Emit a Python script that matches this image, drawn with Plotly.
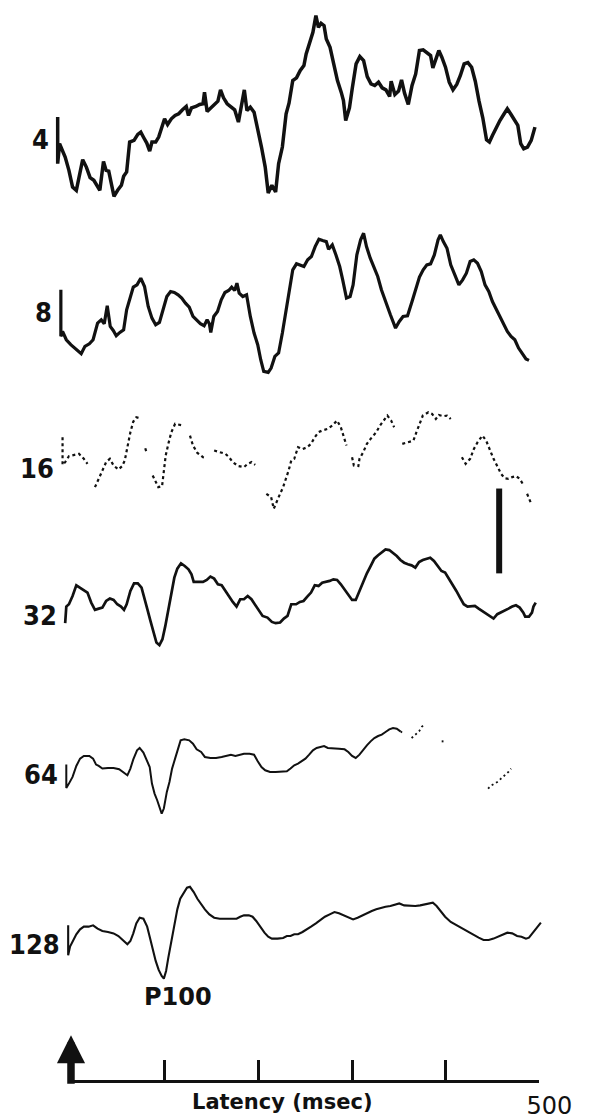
import plotly.graph_objects as go

# Pattern-reversal VEP averages recorded for six check sizes.
# Latency in ms, amplitude in microvolts (positive plotted downward).
CHECK_SIZES = ["4", "8", "16", "32", "64", "128"]

LAT_4 = [-14.2, -14.2, -12.2, -9.4, -6.2, -2.2, 1.7, 5.7, 9.7, 12.5, 16.4, 20.4, 24.4, 27.6, 30.8,
         34.7, 37.5, 40.3, 43.5, 45.9, 49.8, 53.8, 56.2, 59.4, 62.6, 67.3, 71.3, 74.5, 77.7, 80.9,
         84.0, 86.4, 90.4, 93.6, 96.8, 99.9, 103.1, 107.1, 111.1, 115.0, 119.0, 123.0, 125.4, 128.6,
         133.3, 137.3, 140.9, 142.5, 145.3, 149.2, 153.2, 156.8, 159.6, 162.8, 166.7, 170.7, 174.7,
         178.7, 181.8, 185.0, 187.8, 191.4, 195.4, 199.3, 203.3, 207.3, 210.5, 214.4, 218.4, 221.6,
         225.6, 229.6, 232.7, 236.7, 240.7, 244.7, 248.6, 251.0, 255.0, 258.2, 261.4, 264.1, 266.9,
         270.1, 272.5, 276.5, 280.4, 284.4, 288.4, 290.8, 293.2, 297.2, 300.3, 304.3, 308.3, 312.3,
         316.2, 320.2, 324.2, 328.2, 332.1, 336.1, 340.1, 341.7, 345.7, 349.6, 352.8, 356.0, 360.0,
         364.0, 367.9, 371.9, 375.9, 379.8, 383.8, 386.2, 389.4, 392.6, 395.8, 399.7, 403.7, 407.7,
         411.7, 415.6, 419.6, 423.6, 427.6, 431.5, 435.5, 439.5, 443.5, 446.6, 449.8, 453.8, 457.8,
         461.8, 465.7, 469.7, 473.7, 476.9, 480.0, 483.2, 487.2, 491.2, 495.2]
AMP_4 = [-2.67, 2.82, 0.47, 1.18, 2.04, 3.61, 5.57, 5.96, 4.0, 2.35, 3.22, 4.47, 4.78, 5.37, 5.96,
         2.55, 3.61, 3.69, 5.57, 6.67, 5.96, 5.37, 4.31, 3.80, 0.27, 0.08, -0.63, -0.90, -0.24, 0.39,
         1.33, 0.27, 0.27, -0.31, -1.41, -2.47, -1.80, -2.47, -2.86, -3.06, -3.53, -3.92, -2.86, -3.76,
         -3.92, -4.16, -4.24, -5.61, -3.33, -3.76, -4.24, -4.55, -5.88, -4.94, -4.24, -3.92, -3.53,
         -2.08, -3.76, -5.88, -3.45, -3.84, -3.25, -1.41, 0.86, 3.22, 6.27, 5.37, 6.16, 2.82,
         0.86, -3.06, -4.31, -6.98, -7.29, -8.16, -8.75, -10.12, -11.61, -12.67, -14.63, -13.25, -13.73,
         -13.45, -11.88, -10.90, -8.94, -6.98, -5.61, -4.63, -2.27, -3.76, -6.12, -8.94, -9.80, -9.33,
         -7.45, -6.59, -6.39, -6.78, -6.12, -5.88, -5.10, -6.90, -5.33, -5.73, -7.06, -5.49, -4.16,
         -6.39, -7.76, -10.51, -10.59, -10.31, -9.92, -8.47, -9.65, -10.51, -9.73, -8.55, -6.78, -5.88,
         -6.51, -7.57, -8.94, -9.10, -8.55, -6.90, -4.55, -2.59, 0.0, 0.27, -0.51, -1.49, -2.27,
         -2.98, -3.65, -2.98, -2.27, -1.69, 0.47, 1.06, 0.86, 0.08, -1.49]

LAT_8 = [-10.8, -10.8, -9.0, -5.0, -0.2, 5.7, 10.9, 14.9, 19.6, 23.6, 28.4, 32.3, 35.5, 38.7, 41.9,
         45.1, 48.3, 52.2, 56.2, 59.4, 63.4, 66.5, 70.5, 74.5, 78.5, 82.4, 86.4, 90.4, 94.4, 98.3,
         102.3, 106.3, 110.3, 114.3, 118.2, 122.2, 126.2, 130.2, 134.1, 138.1, 142.1, 145.3, 147.7,
         149.2, 152.4, 156.4, 160.4, 164.3, 168.3, 171.5, 174.7, 177.1, 179.5, 183.4, 187.4, 191.4,
         195.4, 199.3, 202.5, 205.7, 210.5, 213.6, 217.6, 221.6, 225.6, 229.6, 232.7, 236.7, 240.7,
         244.7, 248.6, 252.6, 256.6, 260.6, 264.6, 268.5, 272.5, 274.9, 278.9, 282.8, 286.8, 290.0,
         294.0, 297.9, 301.1, 305.1, 309.1, 312.3, 315.4, 319.4, 323.4, 327.4, 331.3, 336.1, 340.9,
         346.4, 350.4, 354.4, 359.2, 364.0, 367.9, 371.9, 375.9, 379.8, 383.8, 387.8, 391.8, 394.2,
         397.4, 401.3, 405.3, 409.3, 414.0, 418.0, 422.0, 426.0, 429.9, 433.9, 437.9, 441.9, 445.9,
         449.8, 453.8, 457.8, 461.8, 465.7, 469.7, 473.7, 477.7, 481.6, 485.6, 488.8]
AMP_8 = [-2.67, 2.82, 2.24, 3.22, 3.80, 4.39, 4.86, 4.0, 3.69, 3.22, 1.25, 0.86, 1.33, -0.78, 1.65,
         2.12, 2.75, 2.35, 2.04, -0.31, -1.88, -2.98, -3.25, -4.04, -3.06, -0.71, 0.67, 1.45, 1.18, -0.31,
         -1.88, -2.47, -2.35, -2.08, -1.69, -1.10, -0.63, 0.47, 0.86, 1.33, 1.57, 0.86, 1.33,
         2.35, 0.47, -0.12, -1.49, -2.35, -2.59, -2.98, -2.59, -3.45, -2.27, -1.88, -2.08, 0.47,
         2.43, 3.80, 5.57, 6.94, 7.06, 6.55, 5.18, 4.78, 2.43, -0.31, -2.08, -5.02, -5.73,
         -5.61, -5.41, -6.20, -6.59, -7.76, -8.63, -8.47, -8.35, -7.45, -7.96, -6.78, -5.41, -3.84,
         -1.69, -1.88, -3.25, -6.78, -8.55, -9.33, -7.76, -6.39, -5.41, -4.24, -2.67, -1.10, 0.27,
         1.84, 1.06, 0.47, 0.39, -1.29, -2.86, -4.16, -5.02, -5.61, -5.73, -6.78, -8.55, -9.14,
         -8.35, -7.57, -5.61, -4.55, -3.25, -3.84, -4.63, -6.0, -6.20, -5.80, -4.82, -3.25, -2.47,
         -1.29, -0.39, 0.55, 1.57, 2.24, 2.82, 3.22, 4.20, 4.86, 5.49, 5.65]

# The 16' recording is broken where the pen lifted (None = no trace).
LAT_16 = [-9.0, -9.0, -6.2, -2.2, 3.7, 8.5, 13.7, 17.6, None,
          25.6, 29.6, 33.5, 37.5, 41.5, 45.5, 50.6, 54.6, 57.4, 60.2, 63.4, 66.5, 69.7, 73.3, None,
          79.3, 80.5, None,
          87.2, 93.2, 97.2, 99.1, 101.1, 103.9, 107.1, 111.1, 115.0, 119.8, None,
          127.0, 130.2, 134.9, 140.9, 144.9, None,
          152.8, 158.8, 164.8, 168.7, 172.7, 178.7, 184.6, 188.6, 192.6, 196.6, None,
          208.5, 213.6, 216.4, 219.2, 223.2, 226.4, 229.6, 232.3, 235.1, 238.3, 242.3, 247.0, 252.2,
          256.2, 260.2, 264.2, 268.1, 274.1, 278.9, 284.0, 288.0, 290.8, 294.0, None,
          300.0, 301.9, 306.7, 307.9, 311.9, 315.8, 319.8, 325.8, 329.8, 333.7, 337.7, 341.7, 344.9, None,
          353.6, 359.6, 365.5, 368.7, 371.9, 375.5, 381.4, 385.4, 389.4, 392.6, 397.4, 401.3, 405.3, None,
          417.2, 421.2, 426.0, 430.0, 434.0, 439.1, 443.1, 447.0, 451.0, 455.0, 459.0, 462.9, 466.9,
          470.9, 474.9, 478.9, 482.8, None,
          486.8, 490.8]
AMP_16 = [-3.65, -0.39, -0.71, -1.41, -1.57, -1.69, -1.10, -0.51, None,
          2.24, 1.25, 0.08, -0.71, -1.10, -0.31, 0.16, -0.24, -0.90, -2.67, -4.24, -5.49, -6.0, -5.88, None,
          -2.35, -1.90, None,
          0.86, 2.24, 2.12, 0.08, -1.49, -2.86, -4.24, -5.22, -5.10, -5.02, None,
          -3.84, -2.67, -1.80, -1.29, -1.18, None,
          -2.08, -1.88, -1.69, -1.29, -0.71, -0.24, -0.12, -0.51, -0.71, -0.39, None,
          3.02, 3.41, 4.78, 4.0, 3.02, 2.24, 1.25, 0.27, -0.90, -1.10, -2.47, -2.24, -2.47,
          -2.86, -3.65, -4.24, -4.43, -4.63, -5.02, -5.61, -4.82, -3.84, -2.67, None,
          -1.29, -0.31, -0.24, -1.10, -1.88, -2.86, -3.45, -4.24, -5.02, -5.61, -6.20, -5.61, -4.82, None,
          -2.86, -3.06, -3.25, -4.24, -5.22, -6.20, -6.59, -6.39, -5.80, -6.27, -6.12, -6.20, -5.80, None,
          -1.29, -0.51, -1.10, -2.27, -3.06, -3.84, -3.25, -2.08, -1.10, -0.24, 0.67, 1.18, 1.25,
          1.06, 0.94, 1.25, 1.96, None,
          3.02, 4.08]

LAT_32 = [-6.2, -5.0, -2.2, 1.7, 5.7, 9.7, 13.7, 17.6, 21.6, 25.6, 29.6, 33.5, 37.5, 41.5, 45.5,
          49.4, 53.4, 56.6, 59.4, 63.4, 67.3, 71.3, 75.3, 78.5, 81.7, 84.8, 88.0, 91.2, 94.4, 97.6,
          100.7, 103.9, 107.1, 110.3, 113.5, 117.4, 121.4, 125.4, 128.6, 131.0, 135.7, 140.9, 144.9,
          148.8, 152.8, 156.8, 160.8, 164.8, 168.7, 172.7, 176.7, 180.6, 184.6, 188.6, 192.6, 196.6,
          200.5, 204.5, 209.7, 214.4, 218.4, 223.2, 227.2, 231.1, 235.1, 240.3, 244.3, 248.2, 252.2,
          256.2, 260.2, 264.2, 268.1, 272.1, 276.1, 280.1, 284.0, 288.0, 292.0, 296.0, 300.0, 303.9,
          307.9, 311.9, 315.8, 319.8, 323.8, 327.8, 331.7, 335.7, 339.7, 343.7, 347.7, 351.6, 355.6,
          359.6, 363.5, 367.5, 371.5, 375.5, 379.5, 383.4, 387.4, 391.4, 395.4, 399.3, 403.3, 407.3,
          411.3, 415.2, 419.2, 423.2, 427.2, 431.1, 435.1, 439.1, 443.1, 447.0, 451.0, 455.0, 459.0,
          462.9, 466.9, 470.9, 474.9, 478.9, 482.8, 484.8, 488.8, 492.0, 493.6, 496.0]
AMP_32 = [0.86, -1.10, -1.37, -2.35, -3.61, -3.33, -3.06, -2.75, -1.57, -0.71, -0.86, -0.98, -1.76, -2.04, -1.88,
          -1.37, -1.10, -0.71, -1.37, -2.94, -3.84, -3.84, -3.33, -2.16, -0.71, 0.59, 1.96, 3.14, 3.45, 2.75,
          1.18, -0.78, -2.82, -4.51, -5.57, -6.20, -5.88, -5.49, -4.90, -4.0, -4.0, -4.0, -4.24,
          -4.63, -4.39, -3.73, -3.61, -2.94, -2.27, -1.65, -1.10, -1.96, -1.96, -2.35, -1.96, -1.25,
          -0.59, 0.0, 0.20, 0.71, 0.86, 0.78, 0.31, 0.0, -1.37, -1.37, -1.65, -1.76, -2.27,
          -2.75, -3.61, -3.53, -3.92, -4.0, -4.12, -4.31, -4.24, -3.73, -3.14, -2.43, -1.88, -1.88,
          -2.94, -4.12, -5.02, -5.88, -6.75, -7.14, -7.45, -7.84, -7.76, -7.45, -7.06, -6.59, -6.27,
          -6.08, -5.96, -5.69, -6.35, -6.59, -6.75, -6.86, -6.47, -5.88, -5.29, -5.10, -4.39, -3.73,
          -2.94, -2.16, -1.37, -1.10, -1.10, -1.18, -0.86, -0.59, -0.31, 0.0, 0.31, -0.20, -0.39,
          -0.59, -0.86, -1.10, -1.25, -0.98, -0.39, 0.08, 0.08, -0.39, -1.10, -1.57]

LAT_64 = [-5.0, -5.0, -2.2, 1.7, 5.7, 9.7, 13.7, 19.6, 23.6, 26.8, 29.6, 33.5, 39.5, 45.5, 51.4,
          55.4, 60.2, 63.4, 66.5, 70.5, 73.3, 77.3, 81.3, 84.0, 86.4, 89.2, 92.0, 94.4, 96.8, 99.1,
          102.3, 105.1, 107.9, 111.1, 114.3, 117.0, 121.0, 126.2, 130.2, 134.1, 138.9, 142.9, 148.8,
          154.8, 160.8, 166.7, 170.7, 175.5, 179.5, 184.6, 190.6, 195.4, 199.3, 203.3, 207.3, 212.5,
          218.4, 224.4, 230.4, 234.3, 238.3, 242.3, 246.3, 250.2, 254.2, 258.2, 262.2, 266.1, 270.1,
          274.1, 280.1, 286.0, 292.0, 296.0, 300.0, 303.9, 307.9, 311.9, 315.8, 319.8, 323.8, 327.8,
          331.7, 335.7, 339.7, 343.7, 347.7, 351.6]
AMP_64 = [-1.18, 1.57, 1.06, 0.27, -1.02, -1.88, -2.20, -2.20, -1.88, -1.18, -1.02, -0.71, -0.78, -0.78, -0.63,
          -0.31, 0.08, -0.71, -1.80, -2.86, -3.14, -2.59, -1.49, -0.90, 1.06, 2.24, 3.02, 3.80, 4.59, 4.0,
          2.04, 0.86, -0.71, -1.88, -3.06, -4.04, -4.16, -4.04, -3.65, -2.98, -2.67, -2.08, -1.96,
          -1.96, -2.08, -2.27, -2.35, -2.20, -2.35, -2.47, -2.47, -2.35, -1.57, -0.90, -0.51, -0.31,
          -0.31, -0.31, -0.39, -0.71, -1.10, -1.29, -1.57, -1.88, -2.35, -2.86, -3.14, -3.25, -3.37,
          -3.14, -3.14, -3.06, -2.98, -2.67, -2.20, -1.96, -2.35, -2.98, -3.45, -3.92, -4.31, -4.55,
          -4.71, -5.02, -5.33, -5.49, -5.41, -5.10]
# Faint late part of the 64' recording
LAT_64_LATE = [351.6, 355.6, None, 363.5, 367.5, 371.5, 374.3, 375.9, None,
               396.6, 396.6, None, 445.1, 449.0, 455.0, 460.9, 466.9, 469.7]
AMP_64_LATE = [-5.10, -4.82, None, -4.31, -4.71, -5.10, -5.61, -5.80, None,
               -4.04, -3.53, None, 1.65, 1.25, 0.86, 0.27, -0.31, -0.71]

LAT_128 = [-3.0, -3.0, -1.0, 1.7, 5.7, 9.7, 13.7, 18.8, 23.6, 28.4, 33.5, 39.5, 45.5, 50.6, 55.4,
           60.2, 63.4, 66.5, 69.7, 73.3, 77.3, 81.3, 84.0, 87.2, 90.4, 93.6, 96.8, 99.1, 101.5, 103.9,
           107.1, 110.3, 113.5, 116.6, 120.6, 123.8, 127.0, 131.0, 134.9, 138.9, 142.9, 147.7, 152.8,
           158.8, 164.8, 170.7, 176.7, 180.6, 184.6, 189.8, 193.8, 197.7, 201.7, 206.5, 210.5, 214.4,
           220.4, 226.4, 230.4, 234.3, 238.3, 242.3, 247.1, 251.0, 256.2, 261.4, 266.1, 271.0, 276.1,
           281.2, 286.0, 290.8, 296.0, 301.1, 305.9, 310.7, 315.8, 321.0, 325.8, 330.5, 335.7, 340.9,
           345.7, 350.4, 355.6, 361.6, 367.5, 372.7, 377.5, 383.4, 386.2, 390.2, 394.2, 399.3, 405.3,
           411.3, 417.2, 423.2, 429.1, 435.1, 440.3, 445.8, 451.0, 456.2, 460.9, 465.7, 470.9, 476.1,
           480.8, 485.6, 488.8, 492.8, 496.8, 501.5]
AMP_128 = [-2.24, 1.29, 0.27, -0.39, -1.18, -1.76, -2.08, -2.08, -2.24, -1.84, -1.57, -1.45, -1.29, -0.98, -0.51,
           0.0, -0.39, -1.29, -2.47, -3.14, -3.02, -2.08, -0.90, 0.59, 1.96, 3.02, 3.73, 4.04, 3.14, 1.57,
           -0.20, -2.08, -4.12, -5.37, -6.08, -6.67, -6.78, -6.16, -5.37, -4.71, -4.12, -3.53, -3.14,
           -3.02, -3.02, -3.02, -3.02, -3.25, -3.41, -3.41, -3.25, -2.75, -2.08, -1.37, -0.90, -0.67,
           -0.67, -0.75, -0.98, -0.98, -1.18, -1.18, -1.45, -1.76, -2.08, -2.47, -2.86, -3.25, -3.53,
           -3.80, -3.65, -3.41, -3.14, -2.94, -3.14, -3.41, -3.65, -3.92, -4.12, -4.31, -4.43, -4.51,
           -4.71, -4.82, -4.59, -4.51, -4.51, -4.59, -4.71, -4.90, -4.90, -4.51, -3.92, -3.25, -2.63,
           -2.24, -1.96, -1.57, -1.18, -0.78, -0.51, -0.51, -0.67, -0.90, -1.18, -1.37, -1.29, -0.98,
           -0.90, -0.67, -0.78, -1.37, -1.96, -2.55]

TICK_MS = [0, 100, 200, 300, 400, 500]
TICK_TEXT = ["", "", "", "", "", "500"]
CAL_UV = 10          # amplitude calibration bar
PEAK_NAME = "P100"

# ---- page geometry (pixels) ----
W, H = 616, 1120
X0_PX, PX_PER_MS = 75, 0.99
PX_PER_UV = 8.5
BASELINE_PX = [140, 313, 469, 617, 776, 946]
AXIS_PX = 1083
CAL_AT_MS, CAL_TOP_UV = 457, 2.4

BLACK = "#111111"
CLEAR = "rgba(0,0,0,0)"
LABEL_FONT = dict(family="DejaVu Sans Condensed, DejaVu Sans, sans-serif", size=27, color=BLACK, weight="bold")

x_range = [-X0_PX / PX_PER_MS, (W - X0_PX) / PX_PER_MS]

series = [
    (LAT_4, AMP_4, dict(width=3.5)),
    (LAT_8, AMP_8, dict(width=3.2)),
    (LAT_16, AMP_16, dict(width=2.2, dash="3px,3px")),
    (LAT_32, AMP_32, dict(width=2.7)),
    (LAT_64, AMP_64, dict(width=2.0)),
    (LAT_128, AMP_128, dict(width=2.1)),
]

fig = go.Figure()
layout_axes = {}
annotations = []

for i, (lat, amp, line) in enumerate(series):
    yname = "y" if i == 0 else f"y{i + 1}"
    axname = "yaxis" if i == 0 else f"yaxis{i + 1}"
    b = BASELINE_PX[i]
    fig.add_trace(go.Scatter(x=lat, y=amp, mode="lines", yaxis=yname, cliponaxis=False,
                             line=dict(color=BLACK, **line), connectgaps=False,
                             hoverinfo="skip", showlegend=False))
    ax = dict(range=[(H - b) / PX_PER_UV, -b / PX_PER_UV], visible=False, domain=[0, 1],
              fixedrange=True)
    if i > 0:
        ax["overlaying"] = "y"
    layout_axes[axname] = ax
    annotations.append(dict(x=lat[0] - 7, y=0, xref="x", yref=yname, text=CHECK_SIZES[i],
                            showarrow=False, xanchor="right", yanchor="middle", font=LABEL_FONT))

# faint tail of the 64' recording
fig.add_trace(go.Scatter(x=LAT_64_LATE, y=AMP_64_LATE, mode="lines", yaxis="y5",
                         line=dict(color=BLACK, width=1.8, dash="2px,3px"), connectgaps=False,
                         hoverinfo="skip", showlegend=False))

# calibration bar
fig.add_trace(go.Scatter(x=[CAL_AT_MS, CAL_AT_MS], y=[CAL_TOP_UV, CAL_TOP_UV + CAL_UV], mode="lines",
                         yaxis="y3", line=dict(color=BLACK, width=6), hoverinfo="skip", showlegend=False))

# latency scale carrier
fig.add_trace(go.Scatter(x=TICK_MS, y=[None] * len(TICK_MS), xaxis="x2", yaxis="y",
                         mode="lines", hoverinfo="skip", showlegend=False))

# P100 label under the trough of the largest check size
i_pk = max(range(len(AMP_128)), key=lambda k: AMP_128[k])
annotations.append(dict(x=LAT_128[i_pk] + 15, y=AMP_128[i_pk], xref="x", yref="y6", text=PEAK_NAME,
                        showarrow=False, xanchor="center", yanchor="top", yshift=-2,
                        font=dict(family="DejaVu Sans, sans-serif", size=24, color=BLACK, weight="bold")))

# stimulus onset arrow
annotations.append(dict(x=0, y=(H - 1037) / H, xref="x2", yref="paper", text="", showarrow=True,
                        ax=0, ay=AXIS_PX - 1037 + 4, axref="pixel", ayref="pixel",
                        arrowhead=2, arrowsize=0.75, arrowwidth=7.5, arrowcolor=BLACK, standoff=0))

annotations.append(dict(x=(298 - X0_PX) / PX_PER_MS, y=(H - 1104) / H, xref="x", yref="paper",
                        text="Latency (msec)", showarrow=False, xanchor="center", yanchor="middle",
                        font=dict(family="DejaVu Sans, sans-serif", size=21, color=BLACK, weight="bold")))

fig.update_layout(
    width=W, height=H,
    margin=dict(l=0, r=0, t=0, b=0),
    paper_bgcolor="white", plot_bgcolor=CLEAR,
    showlegend=False,
    xaxis=dict(range=x_range, visible=False, domain=[0, 1], fixedrange=True),
    xaxis2=dict(range=[0, 500], domain=[X0_PX / W, (X0_PX + 500 * PX_PER_MS) / W],
                anchor="free", position=(H - AXIS_PX) / H,
                showline=True, linewidth=2.8, linecolor=BLACK,
                ticks="inside", ticklen=20, tickwidth=2.8, tickcolor=BLACK,
                tickvals=TICK_MS, ticktext=TICK_TEXT, ticklabelshift=10, ticklabelstandoff=2,
                tickfont=dict(family="DejaVu Sans, sans-serif", size=24, color=BLACK),
                showgrid=False, zeroline=False, fixedrange=True),
    annotations=annotations,
    **layout_axes,
)

fig.write_html("out.html")
